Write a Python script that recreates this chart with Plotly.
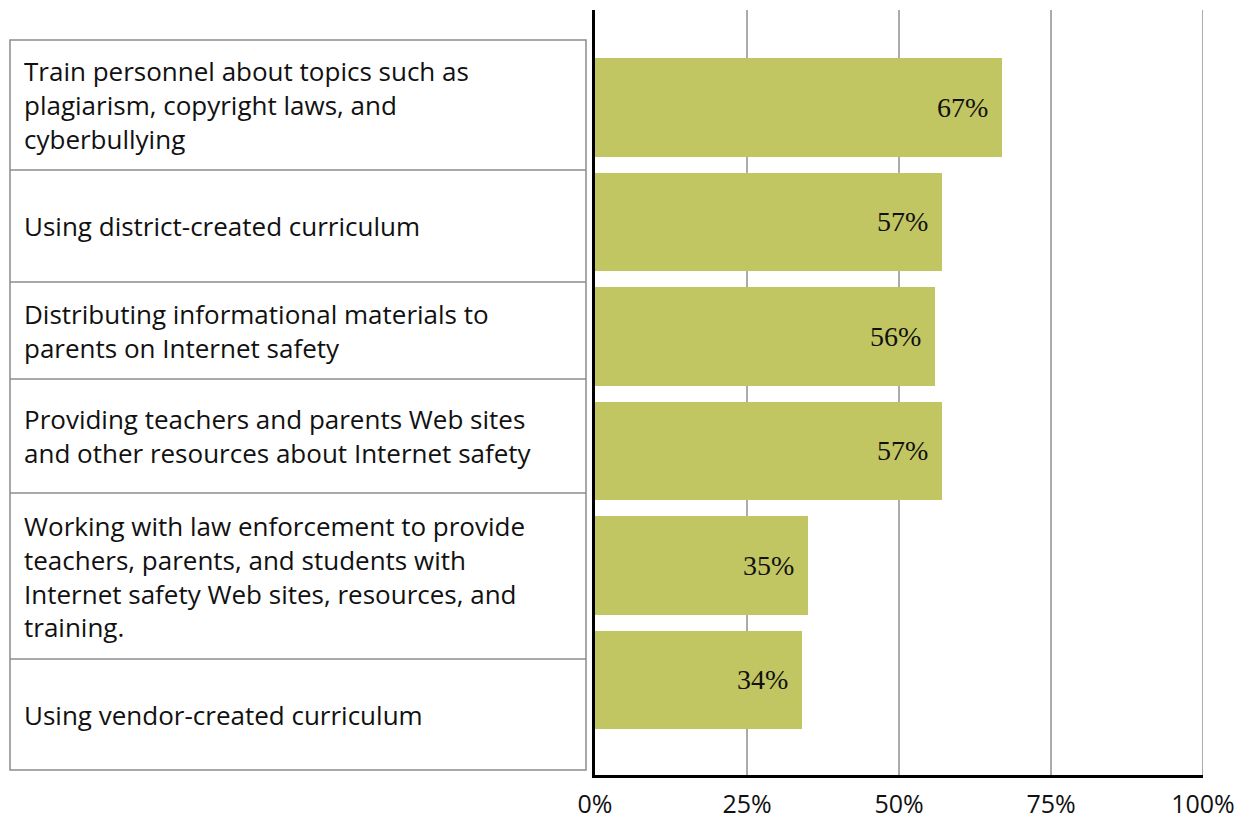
import plotly.graph_objects as go

# Survey categories (line-wrapped as shown in the label column)
categories = [
    "Train personnel about topics such as<br>plagiarism, copyright laws, and<br>cyberbullying",
    "Using district-created curriculum",
    "Distributing informational materials to<br>parents on Internet safety",
    "Providing teachers and parents Web sites<br>and other resources about Internet safety",
    "Working with law enforcement to provide<br>teachers, parents, and students with<br>Internet safety Web sites, resources, and<br>training.",
    "Using vendor-created curriculum",
]
values = [67, 57, 56, 57, 35, 34]
tick_vals = [0, 25, 50, 75, 100]
tick_text = ["0%", "25%", "50%", "75%", "100%"]

# Row boundaries of the label column (pixel rows of the page)
cell_edges_px = [40, 170, 282, 379, 493, 659, 770]

W, H = 1241, 820
ML, MR, MT, MB = 595, 38, 10, 45
PW, PH = W - ML - MR, H - MT - MB

def px_x(p):
    return (p - ML) / PW

def px_y(p):
    return 1 - (p - MT) / PH

BAR_COLOR = "#C2C662"
GRID_COLOR = "#ABABAB"
LABEL_FONT = "Open Sans"
NUM_FONT = "Liberation Serif"

fig = go.Figure()
fig.add_trace(go.Bar(
    x=values,
    y=list(range(len(values))),
    orientation="h",
    marker=dict(color=BAR_COLOR, line=dict(width=0)),
    width=0.86,
    hoverinfo="skip",
))

shapes = []
annotations = []

# Gridline at the right edge of the value axis (plotly drops edge gridlines)
shapes.append(dict(type="line", xref="x", yref="paper",
                   x0=tick_vals[-1], x1=tick_vals[-1], y0=0, y1=1,
                   line=dict(color=GRID_COLOR, width=2), layer="below"))

# Label column: outer box and row dividers
x0, x1 = px_x(10), px_x(586)
shapes.append(dict(type="rect", xref="paper", yref="paper",
                   x0=x0, x1=x1, y0=px_y(cell_edges_px[-1]), y1=px_y(cell_edges_px[0]),
                   line=dict(color="#8C8C8C", width=1.5), fillcolor="rgba(0,0,0,0)", layer="above"))
for e in cell_edges_px[1:-1]:
    shapes.append(dict(type="line", xref="paper", yref="paper",
                       x0=x0, x1=x1, y0=px_y(e), y1=px_y(e),
                       line=dict(color="#8C8C8C", width=1.5), layer="above"))

for i, lab in enumerate(categories):
    mid = (cell_edges_px[i] + cell_edges_px[i + 1]) / 2
    annotations.append(dict(
        xref="paper", yref="paper", x=px_x(22), y=px_y(mid),
        xanchor="left", yanchor="middle", align="left",
        text=lab, showarrow=False,
        font=dict(family=LABEL_FONT, size=26, color="#111111"),
    ))

# Value labels inside the bar ends
for i, v in enumerate(values):
    annotations.append(dict(
        xref="x", yref="y", x=v, y=i,
        xanchor="right", yanchor="middle", xshift=-12,
        text=f"{v}%", showarrow=False,
        font=dict(family=NUM_FONT, size=28, color="#111111"),
    ))

fig.update_layout(
    width=W, height=H,
    margin=dict(l=ML, r=MR, t=MT, b=MB, pad=0),
    paper_bgcolor="white", plot_bgcolor="white",
    showlegend=False,
    shapes=shapes,
    annotations=annotations,
    bargap=0,
)
fig.update_xaxes(
    range=[0, 100],
    tickvals=tick_vals, ticktext=tick_text,
    showgrid=True, gridcolor=GRID_COLOR, gridwidth=2,
    zeroline=False,
    showline=True, linecolor="black", linewidth=2.5,
    ticks="", ticklabelstandoff=5,
    tickfont=dict(family=LABEL_FONT, size=25, color="#111111"),
    automargin=False,
    fixedrange=True,
)
fig.update_yaxes(
    range=[5.83, -0.851],
    showticklabels=False, showgrid=False, zeroline=False,
    showline=True, linecolor="black", linewidth=2.5,
    ticks="",
    automargin=False,
    fixedrange=True,
)

fig.write_html("out.html", config={"displayModeBar": False})
